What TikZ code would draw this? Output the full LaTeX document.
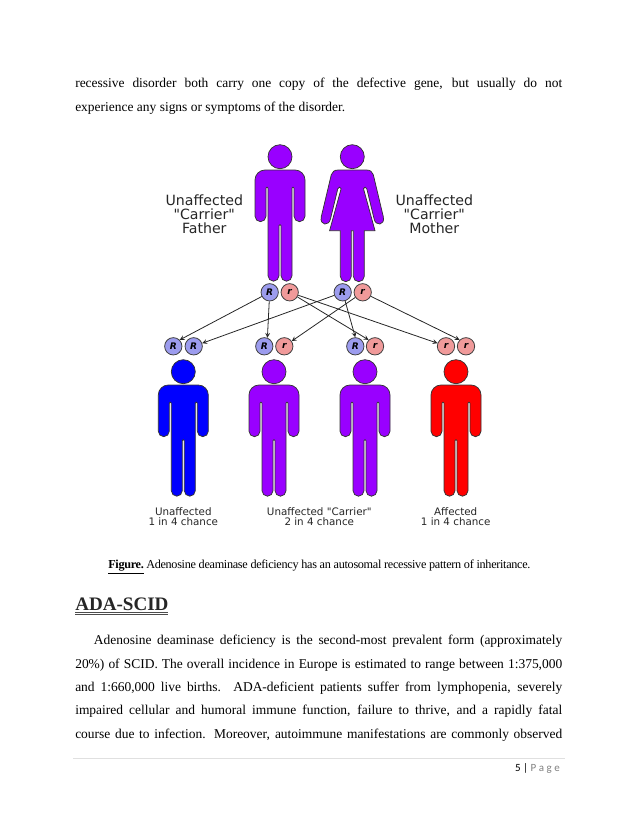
\documentclass[tikz,border=0pt]{standalone}
\usepackage{fontspec}
\usepackage{tikz}
\setmainfont{Liberation Serif}
\newfontfamily\diagfont{DejaVu Sans}
\newfontfamily\footfont{Carlito}
\definecolor{carrierviolet}{HTML}{9900FF}
\definecolor{bigallele}{HTML}{9C9CEE}
\definecolor{smallallele}{HTML}{F09A9A}
\tikzset{
  bodyline/.style={draw=black!80, line width=0.55pt},
  man/.pic={
    \path[pic actions] (0,0) circle (9pt);
    \path[pic actions] (-15,13.3) -- (15,13.3)
      .. controls (20.5,13.3) and (25,17.8) .. (25,23.3) -- (25,59.5)
      .. controls (25,62.5) and (22.5,65) .. (19.5,65)
      .. controls (16.5,65) and (14,62.5) .. (14,59.5) -- (14,31.5)
      .. controls (14,30) and (12,30) .. (12,31.5) -- (12,119)
      .. controls (12,122) and (9.5,124.5) .. (6.5,124.5)
      .. controls (3.5,124.5) and (1,122) .. (1,119) -- (1,69)
      .. controls (1,67.5) and (-1,67.5) .. (-1,69) -- (-1,119)
      .. controls (-1,122) and (-3.5,124.5) .. (-6.5,124.5)
      .. controls (-9.5,124.5) and (-12,122) .. (-12,119) -- (-12,31.5)
      .. controls (-12,30) and (-14,30) .. (-14,31.5) -- (-14,59.5)
      .. controls (-14,62.5) and (-16.5,65) .. (-19.5,65)
      .. controls (-22.5,65) and (-25,62.5) .. (-25,59.5) -- (-25,23.3)
      .. controls (-25,17.8) and (-20.5,13.3) .. (-15,13.3) -- cycle;
  },
  woman/.pic={
    \path[pic actions] (0,0) circle (9pt);
    \path[pic actions] (-14,13.3) -- (14,13.3)
      .. controls (18,13.3) and (20,15) .. (21,18) -- (31,60)
      .. controls (33,69) and (23,70) .. (21.7,61.7) -- (14.5,32)
      .. controls (14,30) and (11.5,30) .. (11.2,32)
      -- (22.7,74) -- (12,74) -- (12,119.5)
      .. controls (12,122.5) and (9.5,125) .. (6.5,125)
      .. controls (3.5,125) and (1,122.5) .. (1,119.5) -- (1,74) -- (-1,74) -- (-1,119.5)
      .. controls (-1,122.5) and (-3.5,125) .. (-6.5,125)
      .. controls (-9.5,125) and (-12,122.5) .. (-12,119.5)
      -- (-12,74) -- (-22.7,74) -- (-11.2,32)
      .. controls (-11.5,30) and (-14,30) .. (-14.5,32)
      -- (-21.7,61.7) .. controls (-23,70) and (-33,69) .. (-31,60) -- (-21,18)
      .. controls (-20,15) and (-18,13.3) .. (-14,13.3) -- cycle;
  },
  allele/.style={circle, draw=black!75, line width=0.6pt, minimum size=13pt, inner sep=0pt,
    font=\diagfont\fontsize{6.8pt}{7pt}\selectfont\bfseries\itshape},
  bigR/.style={allele, fill=bigallele},
  smallr/.style={allele, fill=smallallele},
  bigcaption/.style={align=center, font=\diagfont\fontsize{10.6pt}{10.6pt}\selectfont, text=black!85},
  smallcaption/.style={align=center, font=\diagfont\fontsize{7.75pt}{7.6pt}\selectfont, text=black!85},
  bodytext/.style={anchor=north west, inner sep=0pt, text width=365.25pt, align=justify,
    font=\fontsize{10.1pt}{17.5pt}\selectfont},
  inherit/.style={->, >=stealth, line width=0.6pt, black!85}
}
\begin{document}
\begin{tikzpicture}[x=0.75pt, y=-0.75pt]
    \useasboundingbox (0,0) rectangle (638,826);

    % Text above the figure
    \node[bodytext] (toptext) at (75,78) {\tolerance=9999\hbadness=10000
      recessive disorder both carry one copy of the defective gene, but usually do not\linebreak
      experience any signs or symptoms of the disorder.};

    % Parents
    \pic[fill=carrierviolet, bodyline] at (280,156.7) {man};
    \pic[fill=carrierviolet, bodyline] at (352.3,156.7) {woman};
    \node[bigcaption] (fatherlabel) at (204.3,214) {Unaffected\\"Carrier"\\Father};
    \node[bigcaption] (motherlabel) at (434.3,214) {Unaffected\\"Carrier"\\Mother};

    % Parent alleles
    \node[bigR] (fatherR) at (269.7,292.3) {R};
    \node[smallr] (fatherr) at (289.7,292.3) {r};
    \node[bigR] (motherR) at (342.7,292.3) {R};
    \node[smallr] (motherr) at (362.7,292.3) {r};

    % Child alleles
    \node[bigR] (firstA) at (173.3,346.3) {R};
    \node[bigR] (firstB) at (193.7,346.3) {R};
    \node[bigR] (secondA) at (264.3,346.3) {R};
    \node[smallr] (secondB) at (284.3,346.3) {r};
    \node[bigR] (thirdA) at (355.3,346.3) {R};
    \node[smallr] (thirdB) at (375,346.3) {r};
    \node[smallr] (fourthA) at (446,346.3) {r};
    \node[smallr] (fourthB) at (466,346.3) {r};

    % Inheritance arrows
    \draw[inherit] (fatherR) -- (firstA.45);
    \draw[inherit] (fatherR) -- (secondA.70);
    \draw[inherit] (fatherr) -- (thirdB.135);
    \draw[inherit] (fatherr) -- (fourthA.160);
    \draw[inherit] (motherR) -- (firstB.20);
    \draw[inherit] (motherR) -- (thirdA.north);
    \draw[inherit] (motherr) -- (secondB.35);
    \draw[inherit] (motherr) -- (fourthB.135);

    % Children
    \pic[fill=blue, bodyline] at (183.3,371.7) {man};
    \pic[fill=carrierviolet, bodyline] at (274,371.7) {man};
    \pic[fill=carrierviolet, bodyline] at (365,371.7) {man};
    \pic[fill=red, bodyline] at (456,371.7) {man};
    \node[smallcaption] (firstlabel) at (183.3,516.5) {Unaffected\\1 in 4 chance};
    \node[smallcaption] (middlelabel) at (319.3,516.5) {Unaffected "Carrier"\\2 in 4 chance};
    \node[smallcaption] (lastlabel) at (455.7,516.5) {Affected\\1 in 4 chance};

    % Figure caption
    \node[anchor=base west, inner sep=0pt, font=\fontsize{9.15pt}{10pt}\selectfont\addfontfeature{LetterSpace=-2.5}] (figcaption)
      at (108,568.5) {\underline{\textbf{Figure.}} Adenosine deaminase deficiency has an autosomal recessive pattern of inheritance.};

    % Section heading
    \node[anchor=base west, inner sep=0pt, font=\fontsize{14.3pt}{15pt}\selectfont\bfseries, text=black!85] (heading)
      at (75,610.7) {ADA-SCID};
    \draw[black!70, line width=0.5pt] (75,612.7) -- (168,612.7);
    \draw[black!70, line width=0.5pt] (75,614.7) -- (168,614.7);

    % Text below the heading
    \node[bodytext] (bottomtext) at (75,635) {\tolerance=9999\hbadness=10000
      \hspace*{14pt}Adenosine deaminase deficiency is the second-most prevalent form (approximately\linebreak
      20\%) of SCID. The overall incidence in Europe is estimated to range between 1:375,000\linebreak
      and 1:660,000 live births. ADA-deficient patients suffer from lymphopenia, severely\linebreak
      impaired cellular and humoral immune function, failure to thrive, and a rapidly fatal\linebreak
      \hbox to \linewidth{course due to infection. Moreover, autoimmune manifestations are commonly observed}};

    % Footer
    \draw[black!12, line width=0.6pt] (73,758.3) -- (565,758.3);
    \node[anchor=base east, inner sep=0pt, font=\footfont\fontsize{8.25pt}{10pt}\selectfont] (pagelabel)
      at (560,771) {5 | \textcolor{black!50}{P a g e}};
\end{tikzpicture}
\end{document}
